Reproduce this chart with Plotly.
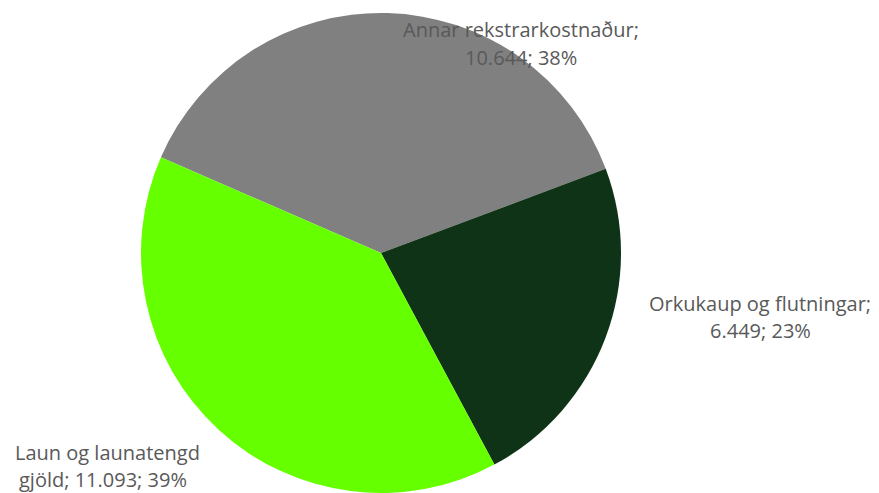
import plotly.graph_objects as go

labels = ["Annar rekstrarkostnaður", "Orkukaup og flutningar", "Laun og launatengd gjöld"]
values = [10.644, 6.449, 11.093]
colors = ["#808080", "#0f3316", "#66ff00"]

total = sum(values)
pcts = [round(v / total * 100) for v in values]

def fmt(v):
    return f"{v:.3f}"

# page body has an 8px default margin; figure is sized/offset to compensate
OFF = 8
W, H = 879 - OFF, 493 - OFF

fig = go.Figure(go.Pie(
    labels=labels,
    values=values,
    sort=False,
    direction="clockwise",
    rotation=293.5,
    marker=dict(colors=colors, line=dict(width=0)),
    textinfo="none",
    hoverinfo="label+value+percent",
    showlegend=False,
    domain=dict(x=[(141 - OFF) / W, (621 - OFF) / W], y=[0, 1 - (13 - OFF) / H]),
))

lines = [
    [(f"{labels[0]};", 521, 30), (f"{fmt(values[0])}; {pcts[0]}%", 521, 58)],
    [(f"{labels[1]};", 760, 303), (f"{fmt(values[1])}; {pcts[1]}%", 760, 330)],
    [("Laun og launatengd", 107, 452), (f"gjöld; {fmt(values[2])}; {pcts[2]}%", 103, 479)],
]
for grp in lines:
    for txt, px, py in grp:
        fig.add_annotation(
            text=txt, x=(px - OFF) / W, y=1 - (py - OFF) / H, xref="paper", yref="paper",
            xanchor="center", yanchor="middle", showarrow=False,
            font=dict(family="Open Sans", size=20, color="#595959"),
        )

fig.update_layout(
    width=W, height=H,
    margin=dict(l=0, r=0, t=0, b=0),
    paper_bgcolor="white", plot_bgcolor="white",
)
fig.write_html("out.html")
